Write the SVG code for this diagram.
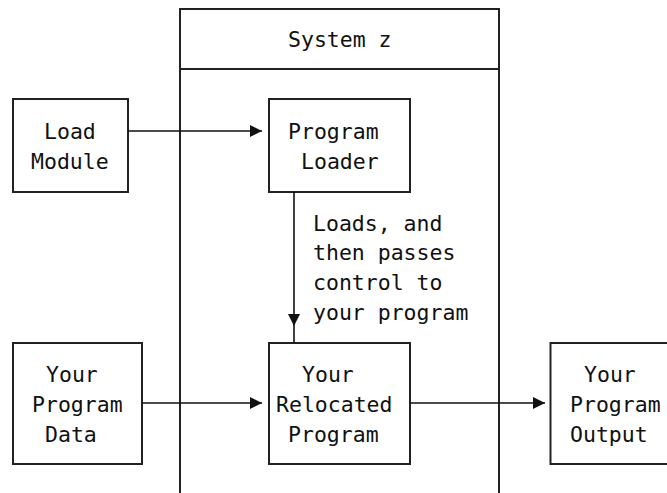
<svg xmlns="http://www.w3.org/2000/svg" width="667" height="493" viewBox="0 0 667 493">
<style>
.box{fill:none;stroke:#222;stroke-width:2}
.con{fill:none;stroke:#111;stroke-width:1.6}
text{font-family:"DejaVu Sans Mono","Liberation Mono",monospace;font-size:21.5px;fill:#111}
</style>
<defs>
<marker id="ah" markerUnits="userSpaceOnUse" markerWidth="13" markerHeight="12" refX="12" refY="6" orient="auto">
<path d="M0,0 L12,6 L0,12 Z" fill="#111"/>
</marker>
</defs>
<rect width="667" height="493" fill="#fff"/>
<g id="system-z">
<path class="box" d="M180,493 V9 H499 V493 M180,69 H499"/>
<text x="288" y="47">System z</text>
</g>
<g id="load-module">
<rect class="box" x="13" y="99" width="115" height="93"/>
<text x="44" y="139">Load</text>
<text x="31" y="169">Module</text>
</g>
<g id="program-loader">
<rect class="box" x="269" y="99" width="141" height="93"/>
<text x="288" y="139">Program</text>
<text x="301" y="169">Loader</text>
</g>
<g id="program-data">
<rect class="box" x="13" y="343" width="129" height="121"/>
<text x="46" y="382">Your</text>
<text x="32" y="412">Program</text>
<text x="45" y="442">Data</text>
</g>
<g id="relocated-program">
<rect class="box" x="269" y="343" width="141" height="121"/>
<text x="302" y="382">Your</text>
<text x="276" y="412">Relocated</text>
<text x="288" y="442">Program</text>
</g>
<g id="program-output">
<rect class="box" x="550.5" y="343" width="130" height="121"/>
<text x="584" y="382">Your</text>
<text x="570" y="412">Program</text>
<text x="570" y="442">Output</text>
</g>
<g id="connectors">
<path class="con" d="M128,131 H262" marker-end="url(#ah)"/>
<path class="con" d="M294,192 V326" marker-end="url(#ah)"/>
<path class="con" d="M294,326 V343"/>
<path class="con" d="M142,403 H262" marker-end="url(#ah)"/>
<path class="con" d="M410,403 H545" marker-end="url(#ah)"/>
<text x="313" y="231">Loads, and</text>
<text x="313" y="260">then passes</text>
<text x="313" y="290">control to</text>
<text x="313" y="320">your program</text>
</g>
</svg>
